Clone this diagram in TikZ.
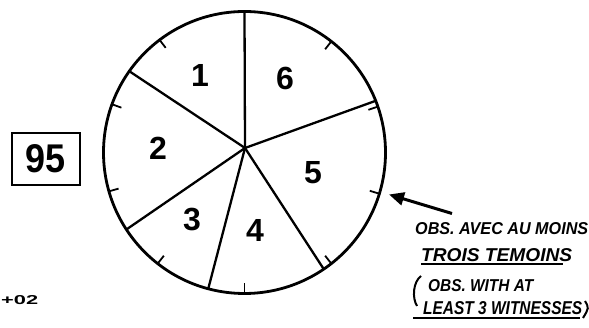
\documentclass[tikz,border=0pt]{standalone}
\usepackage{fontspec}
\setmainfont{Liberation Sans}
\usetikzlibrary{arrows.meta,calc}
\tikzset{
  rim/.style={line width=2.8pt},
  spoke/.style={line width=2.3pt},
  tick/.style={line width=1.8pt},
  num/.style={font=\fontsize{32}{32}\selectfont\bfseries, inner sep=0pt},
  hand/.style={anchor=south west, inner sep=0pt},
  uline/.style={line width=2pt},
  pointer/.style={line width=3pt, -{Triangle[length=15pt,width=13pt]}}
}
\newcommand{\hw}[3]{\resizebox{#1}{#2}{\bfseries\itshape #3}}
\begin{document}
\begin{tikzpicture}[x=1pt,y=1pt]
\useasboundingbox (0,0) rectangle (589,328);
\coordinate (c) at (244.5,175.5);
\coordinate (hub) at (245,180);
% ticks
\foreach \a in {52,19,-17,-52,-90,-128,-164,160,127}
  \draw[tick] ($(c)+(\a:141)$) -- ($(c)+(\a:131)$);
% spokes
\foreach \a/\n in {90/s1,21.5/s2,-55.8/s3,-104.9/s4,213.1/s5,144.8/s6}{
  \coordinate (\n) at ($(c)+(\a:141)$);
  \draw[spoke] (hub) -- (\n);
}
\draw[rim] (c) circle[radius=141];
% sector numbers
\node[num] (n1) at (200,253) {1};
\node[num] (n6) at (285,250) {6};
\node[num] (n2) at (158,180) {2};
\node[num] (n5) at (313,155) {5};
\node[num] (n3) at (192,108) {3};
\node[num] (n4) at (255,98) {4};
% box 95
\node[draw, line width=2.4pt, minimum width=68pt, minimum height=52pt, inner sep=0pt] (box) at (46,169) {\resizebox{40pt}{28pt}{\bfseries 95}};
% +02
\node[anchor=south west, inner sep=0pt] (code) at (1,23) {\resizebox{37pt}{9pt}{\bfseries +02}};
% arrow
\coordinate (tail) at (452,114.5);
\coordinate (tip) at (389,133.5);
\draw[pointer] (tail) -- (tip);
% text
\node[hand] (t1) at (415,93) {\hw{173pt}{12pt}{OBS. AVEC AU MOINS}};
\node[hand] (t2) at (421,66) {\hw{151pt}{13pt}{TROIS TEMOINS}};
\node[hand] (t3) at (428,36) {\hw{105pt}{12pt}{OBS. WITH AT}};
\node[hand] (t4) at (423,13) {\hw{159pt}{13pt}{LEAST 3 WITNESSES}};
\coordinate (u2a) at (421,64); \coordinate (u2b) at (563,64);
\draw[uline] (u2a) -- (u2b);
\coordinate (u4a) at (413,9.5); \coordinate (u4b) at (580,9.5);
\draw[uline] (u4a) -- (u4b);
\coordinate (pl1) at (421,52); \coordinate (pl2) at (417,22);
\draw[line width=2pt] (pl1) .. controls (413,46) and (412,30) .. (pl2);
\coordinate (pr1) at (585,27); \coordinate (pr2) at (583,10);
\draw[line width=2pt] (pr1) .. controls (589,20) .. (pr2);
\end{tikzpicture}
\end{document}
